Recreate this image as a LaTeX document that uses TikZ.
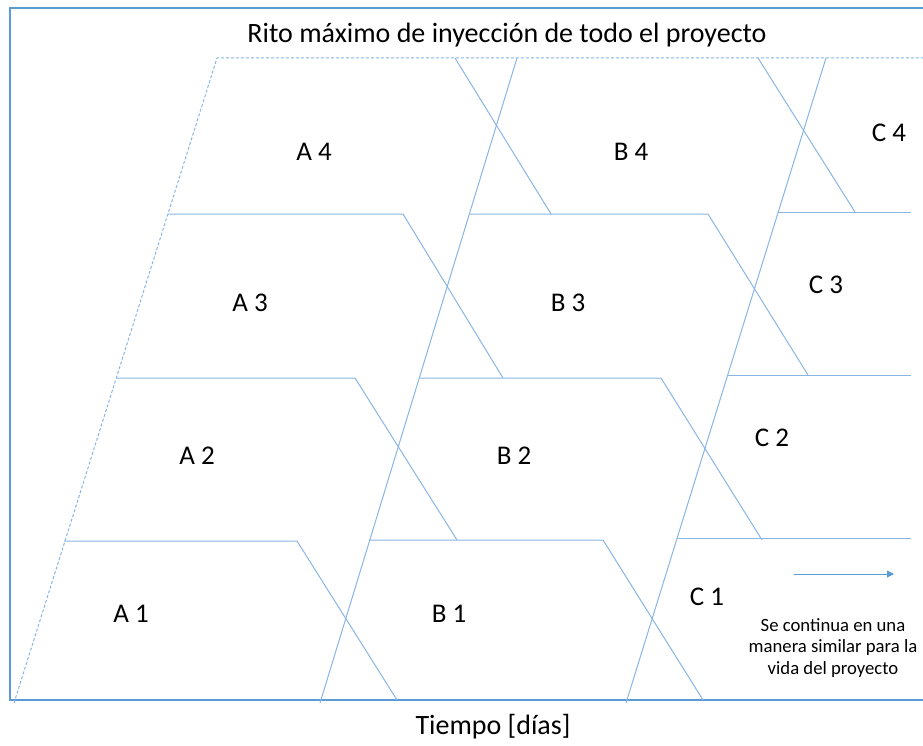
\documentclass[tikz,border=0pt]{standalone}
\usepackage{fontspec}
\setmainfont{Carlito}
\usetikzlibrary{arrows.meta}
\definecolor{frameblue}{HTML}{5B9BD5}
\definecolor{lineblue}{HTML}{8AB6E4}
\begin{document}
\begin{tikzpicture}[x=1pt,y=-1pt,
  framestyle/.style={draw=frameblue,line width=1.6pt},
  blockline/.style={draw=lineblue,line width=1pt},
  limitline/.style={draw=lineblue,line width=1pt,dash pattern=on 3pt off 2pt},
  blocklabel/.style={font=\fontsize{27}{32}\selectfont,inner sep=0pt},
  axislabel/.style={font=\fontsize{28}{32}\selectfont,inner sep=0pt},
  notelabel/.style={font=\fontsize{18.7}{21.5}\selectfont,align=center,inner sep=0pt}]
\useasboundingbox[fill=white] (0,0) rectangle (923,746);
% frame
\draw[framestyle] (923,8) -- (10,8) -- (10,700) -- (923,700);
% limit (dashed)
\draw[limitline] (14,703) -- (217,58) -- (923,58);
% rising lines
\draw[blockline] (320,703) -- (517,58);
\draw[blockline] (626,703) -- (826,58);
% column A
\draw[blockline] (64,541) -- (297,541) -- (397,700);
\draw[blockline] (117,378) -- (355,378) -- (457,540);
\draw[blockline] (168,214) -- (403,214) -- (503,378);
\draw[blockline] (455,58) -- (551,214);
% column B
\draw[blockline] (369,540) -- (603,540) -- (703,700);
\draw[blockline] (420,378) -- (661,378) -- (762,540);
\draw[blockline] (470,214) -- (708,214) -- (808,375);
\draw[blockline] (758,58) -- (855,212);
% column C
\draw[blockline] (677,538) -- (911,538);
\draw[blockline] (727,375) -- (911,375);
\draw[blockline] (778,212) -- (911,212);
% labels
\node[axislabel] (title) at (507,35) {Rito máximo de inyección de todo el proyecto};
\node[axislabel] (time) at (493,727) {Tiempo [días]};
\node[blocklabel] (a4) at (314,152) {A 4};
\node[blocklabel] (b4) at (631,152) {B 4};
\node[blocklabel] (c4) at (889,133) {C 4};
\node[blocklabel] (a3) at (250,303) {A 3};
\node[blocklabel] (b3) at (568,303) {B 3};
\node[blocklabel] (c3) at (826,285) {C 3};
\node[blocklabel] (a2) at (197,456) {A 2};
\node[blocklabel] (b2) at (514,456) {B 2};
\node[blocklabel] (c2) at (772,438) {C 2};
\node[blocklabel] (a1) at (131,614) {A 1};
\node[blocklabel] (b1) at (449,614) {B 1};
\node[blocklabel] (c1) at (707,597) {C 1};
\node[notelabel] (note) at (833,648) {Se continua en una\\manera similar para la\\vida del proyecto};
\coordinate (arrS) at (794,574);
\coordinate (arrE) at (894,574);
\draw[draw=frameblue,line width=1pt,-{Triangle[length=7pt,width=7pt]}] (arrS) -- (arrE);
\end{tikzpicture}
\end{document}
